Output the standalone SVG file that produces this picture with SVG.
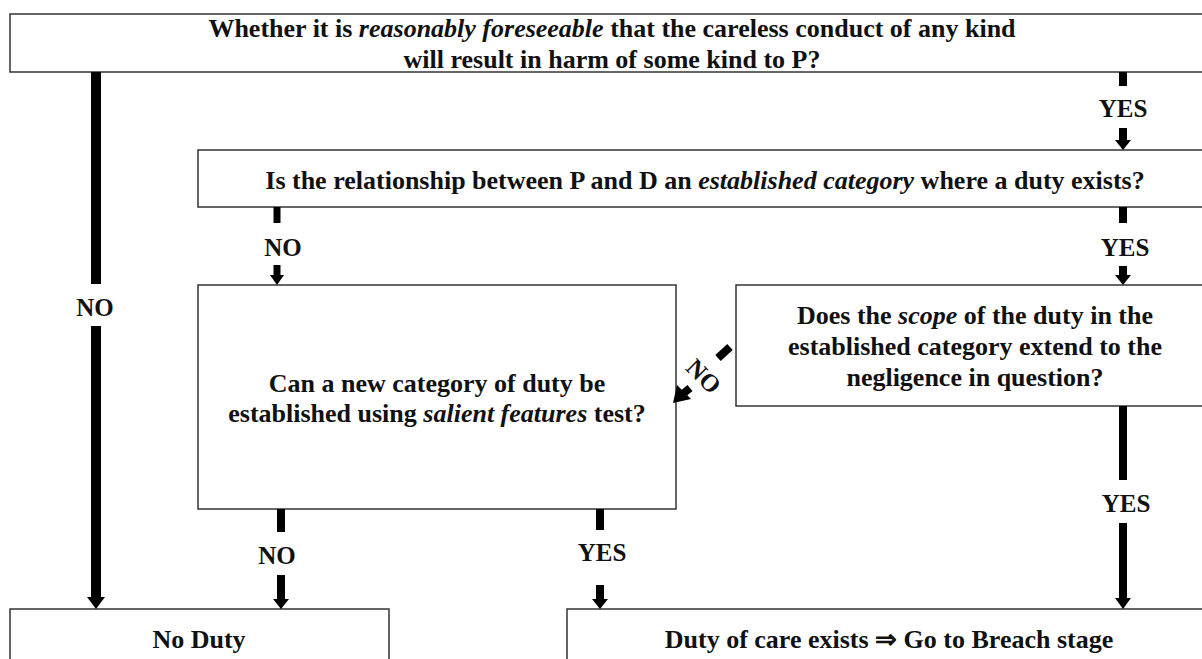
<svg xmlns="http://www.w3.org/2000/svg" width="1202" height="659" viewBox="0 0 1202 659">
<defs>
<style>
.box{fill:#fff;stroke:#333;stroke-width:1.5}
.t{font-family:"Liberation Serif","Times New Roman",serif;font-weight:bold;font-size:26px;fill:#111;text-anchor:middle}
.l{font-family:"Liberation Serif","Times New Roman",serif;font-weight:bold;font-size:25px;fill:#111;text-anchor:middle}
.c{stroke:#000;fill:none}
.ah{fill:#000}
</style>
</defs>
<rect width="1202" height="659" fill="#fff"/>
<g id="q1">
<rect class="box" x="10" y="14" width="1200" height="58"/>
<text class="t" x="612" y="37">Whether it is <tspan font-style="italic">reasonably foreseeable</tspan> that the careless conduct of any kind</text>
<text class="t" x="612" y="68">will result in harm of some kind to P?</text>
</g>
<g id="q2">
<rect class="box" x="198" y="150" width="1010" height="57"/>
<text class="t" x="705" y="189">Is the relationship between P and D an <tspan font-style="italic">established category</tspan> where a duty exists?</text>
</g>
<g id="q3">
<rect class="box" x="736" y="285" width="472" height="121"/>
<text class="t" x="975" y="324">Does the <tspan font-style="italic">scope</tspan> of the duty in the</text>
<text class="t" x="975" y="355">established category extend to the</text>
<text class="t" x="975" y="386">negligence in question?</text>
</g>
<g id="q4">
<rect class="box" x="198" y="285" width="478" height="224"/>
<text class="t" x="437" y="392">Can a new category of duty be</text>
<text class="t" x="437" y="422">established using <tspan font-style="italic">salient features</tspan> test?</text>
</g>
<g id="noduty">
<rect class="box" x="10" y="609" width="379" height="60"/>
<text class="t" x="199" y="648">No Duty</text>
</g>
<g id="duty">
<rect class="box" x="567" y="609" width="650" height="60"/>
<text class="t" x="889" y="648">Duty of care exists ⇒ Go to Breach stage</text>
</g>
<g id="connectors">
<line class="c" x1="96" y1="72" x2="96" y2="284" stroke-width="10"/>
<line class="c" x1="96" y1="326" x2="96" y2="598" stroke-width="10"/>
<polygon class="ah" points="87,597 105,597 96,609"/>
<text class="l" x="95" y="316">NO</text>
<line class="c" x1="1123" y1="72" x2="1123" y2="86" stroke-width="8"/>
<line class="c" x1="1123" y1="128" x2="1123" y2="141" stroke-width="8"/>
<polygon class="ah" points="1115,140 1131,140 1123,150"/>
<text class="l" x="1123" y="117">YES</text>
<line class="c" x1="1123" y1="207" x2="1123" y2="223" stroke-width="8"/>
<line class="c" x1="1123" y1="266" x2="1123" y2="276" stroke-width="8"/>
<polygon class="ah" points="1115,275 1131,275 1123,285"/>
<text class="l" x="1125" y="256">YES</text>
<line class="c" x1="277" y1="207" x2="277" y2="223" stroke-width="7"/>
<line class="c" x1="277" y1="265" x2="277" y2="276" stroke-width="7"/>
<polygon class="ah" points="270,275 284,275 277,285"/>
<text class="l" x="283" y="256">NO</text>
<line class="c" x1="730" y1="347" x2="718" y2="358" stroke-width="8"/>
<line class="c" x1="690" y1="388" x2="684" y2="393" stroke-width="8"/>
<polygon class="ah" points="673,403 677,385 691,399"/>
<text class="l" transform="translate(704,376) rotate(45)" x="0" y="9">NO</text>
<line class="c" x1="1123" y1="406" x2="1123" y2="480" stroke-width="8"/>
<line class="c" x1="1123" y1="523" x2="1123" y2="599" stroke-width="8"/>
<polygon class="ah" points="1115,598 1131,598 1123,609"/>
<text class="l" x="1126" y="512">YES</text>
<line class="c" x1="281" y1="509" x2="281" y2="532" stroke-width="8"/>
<line class="c" x1="281" y1="575" x2="281" y2="600" stroke-width="8"/>
<polygon class="ah" points="273,599 289,599 281,609"/>
<text class="l" x="277" y="564">NO</text>
<line class="c" x1="600" y1="509" x2="600" y2="530" stroke-width="8"/>
<line class="c" x1="600" y1="585" x2="600" y2="600" stroke-width="8"/>
<polygon class="ah" points="592,599 608,599 600,609"/>
<text class="l" x="602" y="561">YES</text>
</g>
</svg>
